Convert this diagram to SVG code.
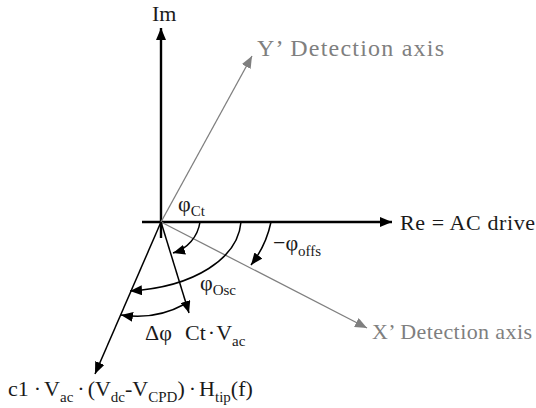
<svg xmlns="http://www.w3.org/2000/svg" width="536" height="408" viewBox="0 0 536 408">
<defs>
<style>
text{font-family:"Liberation Serif","Times New Roman",serif;font-size:22px;fill:#1a1a1a}
.g{fill:#7f7f7f}
.s{font-size:15px}
.ax{stroke:#000;stroke-width:2.4;fill:none}
.vec{stroke:#000;stroke-width:1.5;fill:none}
.gax{stroke:#7f7f7f;stroke-width:1.3;fill:none}
.arc{stroke:#000;stroke-width:1.5;fill:none}
</style>
<marker id="ab" viewBox="0 0 12 10" refX="12" refY="5" markerWidth="12" markerHeight="10" markerUnits="userSpaceOnUse" orient="auto"><path d="M0,0 L12,5 L0,10 Z" fill="#000"/></marker>
<marker id="ag" viewBox="0 0 12 10" refX="12" refY="5" markerWidth="12" markerHeight="10" markerUnits="userSpaceOnUse" orient="auto"><path d="M0,0 L12,5 L0,10 Z" fill="#7f7f7f"/></marker>
</defs>
<g id="connectors">
<line class="ax" x1="142" y1="222" x2="392" y2="222" marker-end="url(#ab)"/>
<line class="ax" x1="161" y1="238" x2="161" y2="28" marker-end="url(#ab)"/>
<line class="gax" x1="161" y1="222" x2="252" y2="56" marker-end="url(#ag)"/>
<line class="gax" x1="161" y1="222" x2="367" y2="328" marker-end="url(#ag)"/>
<line class="vec" x1="161" y1="222" x2="189" y2="313" marker-end="url(#ab)"/>
<line class="vec" x1="161" y1="222" x2="95" y2="374" marker-end="url(#ab)"/>
<path class="arc" d="M200,222 A38,38 0 0 1 173,253" marker-end="url(#ab)"/>
<path class="arc" d="M241,222 C238,258 195,287 130,291" marker-end="url(#ab)"/>
<path class="arc" d="M271,222 A105,105 0 0 1 251,265" marker-end="url(#ab)"/>
<path class="arc" d="M185,304 A100,100 0 0 1 121,315" marker-end="url(#ab)"/>
</g>
<g id="im"><text x="152" y="21">Im</text></g>
<g id="yaxis"><text class="g" x="257" y="56" style="font-size:24px" textLength="187">Y’ Detection axis</text></g>
<g id="re"><text x="400" y="230" textLength="135">Re = AC drive</text></g>
<g id="xaxis"><text class="g" x="372" y="339" textLength="160">X’ Detection axis</text></g>
<g id="phict"><text x="178" y="211">φ<tspan class="s" dy="5">Ct</tspan></text></g>
<g id="phioffs"><text x="273" y="250">−φ<tspan class="s" dy="6">offs</tspan></text></g>
<g id="phiosc"><text x="200" y="290">φ<tspan class="s" dy="5">Osc</tspan></text></g>
<g id="dphi"><text x="145" y="340">Δφ</text></g>
<g id="ctvac"><text x="185" y="340">Ct<tspan dx="2">·</tspan><tspan dx="1">V</tspan><tspan class="s" dy="6">ac</tspan></text></g>
<g id="formula"><text x="8" y="396">c1<tspan dx="5">·</tspan><tspan dx="3">V</tspan><tspan class="s" dy="6">ac</tspan><tspan dy="-6" dx="4">·</tspan><tspan dx="3">(V</tspan><tspan class="s" dy="6">dc</tspan><tspan dy="-6">-V</tspan><tspan class="s" dy="6">CPD</tspan><tspan dy="-6">)</tspan><tspan dx="4">·</tspan><tspan dx="3">H</tspan><tspan class="s" dy="6">tip</tspan><tspan dy="-6">(f)</tspan></text></g>
</svg>
